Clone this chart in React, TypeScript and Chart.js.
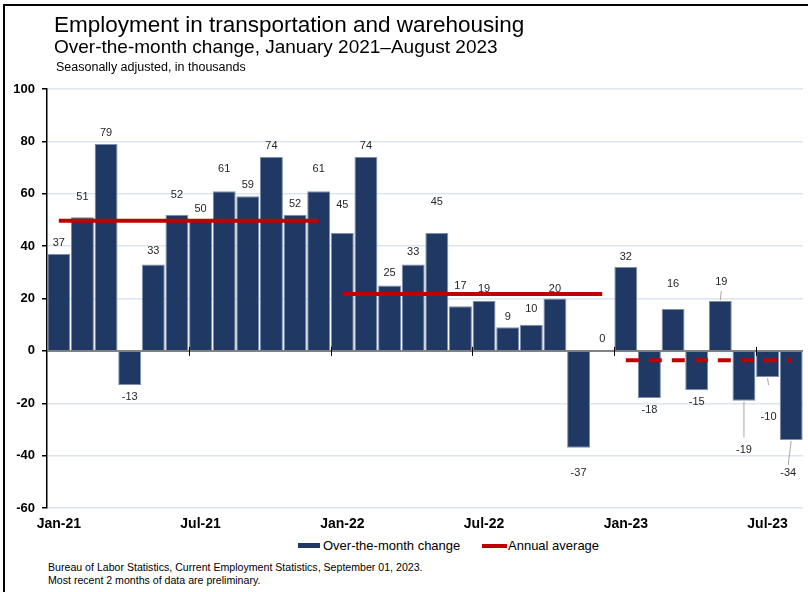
import React, { useEffect, useRef } from "react";
import { Chart, registerables } from "chart.js";

Chart.register(...registerables);

// ---- Data ----
const MONTHS = [
  "Jan-21", "Feb-21", "Mar-21", "Apr-21", "May-21", "Jun-21", "Jul-21", "Aug-21", "Sep-21", "Oct-21", "Nov-21", "Dec-21",
  "Jan-22", "Feb-22", "Mar-22", "Apr-22", "May-22", "Jun-22", "Jul-22", "Aug-22", "Sep-22", "Oct-22", "Nov-22", "Dec-22",
  "Jan-23", "Feb-23", "Mar-23", "Apr-23", "May-23", "Jun-23", "Jul-23", "Aug-23",
];
const CHANGE = [
  37, 51, 79, -13, 33, 52, 50, 61, 59, 74, 52, 61,
  45, 74, 25, 33, 45, 17, 19, 9, 10, 20, -37, 0,
  32, -18, 16, -15, 19, -19, -10, -34,
];
const YEARS = ["21", "22", "23"];
const ANNUAL_AVG = [49.7, 21.7, -3.6];
const Y_TICKS = [-60, -40, -20, 0, 20, 40, 60, 80, 100];
const X_TICK_LABELS = ["Jan-21", "Jul-21", "Jan-22", "Jul-22", "Jan-23", "Jul-23"];
const PRELIM_YEAR = "23";

// ---- Label placement (style only, pixels from bar end) ----
const LABEL_DY = [
  -11, -20, -11, 12, -13, -20, -11, -22, -11, -11, -11, -22,
  -28, -11, -12, -12, -31, -20, -12, -10, -16, -10, 25, -12,
  -10, 12, -25, 12, -19, 49, 40, 33,
];
const LABEL_DX: Record<number, number> = { 28: 1, 30: 1, 31: -3 };
const LEADER_LEN: Record<number, number> = { 28: 10, 29: 37, 30: 8, 31: 25 };

const NAVY = "#203864";
const RED = "#c00000";
const FONT = '"Liberation Sans", Arial, sans-serif';

const avgLine = MONTHS.map((m) => ANNUAL_AVG[YEARS.indexOf(m.slice(-2))]);

const overlayPlugin = {
  id: "overlay",
  afterDatasetsDraw(chart: any) {
    const ctx = chart.ctx;
    const x = chart.scales.x;
    const y = chart.scales.y;
    const area = chart.chartArea;
    const y0 = y.getPixelForValue(0);
    ctx.save();
    // zero line
    ctx.strokeStyle = "#595959";
    ctx.lineWidth = 1.5;
    ctx.beginPath();
    ctx.moveTo(area.left, y0);
    ctx.lineTo(area.right, y0);
    ctx.stroke();
    // boundary ticks on zero line
    const half = (x.getPixelForValue(1) - x.getPixelForValue(0)) / 2;
    ctx.strokeStyle = "#000";
    ctx.lineWidth = 1;
    MONTHS.forEach((m, i) => {
      if (i > 0 && X_TICK_LABELS.includes(m)) {
        const px = Math.round(x.getPixelForValue(i) - half) + 0.5;
        ctx.beginPath();
        ctx.moveTo(px, y0 - 4);
        ctx.lineTo(px, y0 + 5);
        ctx.stroke();
      }
    });
    // data labels
    const meta = chart.getDatasetMeta(1);
    ctx.font = "11px " + FONT;
    ctx.fillStyle = "#262626";
    ctx.textAlign = "center";
    ctx.textBaseline = "middle";
    meta.data.forEach((el: any, i: number) => {
      const v = CHANGE[i];
      const end = y.getPixelForValue(v);
      const dx = LABEL_DX[i] || 0;
      const ly = end + LABEL_DY[i];
      if (LEADER_LEN[i]) {
        const sign = v >= 0 ? -1 : 1;
        ctx.strokeStyle = "#a6a6a6";
        ctx.lineWidth = 1;
        ctx.beginPath();
        ctx.moveTo(el.x, end + sign);
        ctx.lineTo(el.x + dx, end + sign * LEADER_LEN[i]);
        ctx.stroke();
      }
      ctx.fillText(String(v), el.x + dx, ly);
    });
    ctx.restore();
  },
};

export default function App() {
  const ref = useRef<HTMLCanvasElement>(null);
  useEffect(() => {
    if (!ref.current) return;
    const chart = new Chart(ref.current, {
      type: "bar",
      data: {
        labels: MONTHS,
        datasets: [
          {
            type: "line",
            label: "Annual average",
            data: avgLine,
            borderColor: RED,
            borderWidth: 4,
            borderCapStyle: "butt",
            pointRadius: 0,
            order: 0,
            segment: {
              borderColor: (c: any) =>
                MONTHS[c.p0DataIndex].slice(-2) !== MONTHS[c.p1DataIndex].slice(-2) ? "rgba(0,0,0,0)" : RED,
              borderDash: (c: any) => (MONTHS[c.p0DataIndex].slice(-2) === PRELIM_YEAR ? [13, 10] : []),
            },
          } as any,
          {
            type: "bar",
            label: "Over-the-month change",
            data: CHANGE,
            backgroundColor: NAVY,
            borderColor: "#7d8fad",
            borderWidth: 1,
            barPercentage: 0.97,
            categoryPercentage: 1,
            order: 1,
          },
        ],
      },
      options: {
        animation: false,
        responsive: false,
        maintainAspectRatio: false,
        layout: { padding: { top: 89, right: 5, left: 0, bottom: 0 } },
        plugins: { legend: { display: false }, tooltip: { enabled: false }, title: { display: false } },
        scales: {
          x: {
            grid: { display: false, drawTicks: false },
            border: { display: false },
            ticks: {
              autoSkip: false,
              maxRotation: 0,
              padding: 8,
              color: "#000",
              font: { family: FONT, size: 14, weight: "bold" },
              callback: (_v: any, i: number) => (X_TICK_LABELS.includes(MONTHS[i]) ? MONTHS[i] : ""),
            },
            afterFit: (s: any) => {
              s.height = 30;
            },
          },
          y: {
            min: -60,
            max: 100,
            afterBuildTicks: (s: any) => {
              s.ticks = Y_TICKS.map((v) => ({ value: v }));
            },
            grid: {
              color: (c: any) => (c.tick && c.tick.value === 0 ? "rgba(0,0,0,0)" : "#dce6f2"),
              lineWidth: 1.5,
              tickColor: "#000",
              tickLength: 5,
              tickWidth: 1.5,
            },
            border: { color: "#000", width: 1.5 },
            ticks: {
              padding: 7,
              color: "#000",
              font: { family: FONT, size: 13, weight: "bold" },
            },
            afterFit: (s: any) => {
              s.width = 47;
            },
          },
        },
      },
      plugins: [overlayPlugin],
    } as any);
    return () => chart.destroy();
  }, []);

  const abs = (o: any) => ({ position: "absolute" as const, whiteSpace: "nowrap" as const, fontFamily: FONT, color: "#000", ...o });

  return (
    <div style={{ position: "absolute", left: 0, top: 0, width: 808, height: 592, overflow: "hidden", background: "#fff" }}>
      <div style={{ position: "absolute", left: 3, top: 4, width: 820, height: 600, borderLeft: "2px solid #000", borderTop: "2px solid #000" }} />
      <canvas ref={ref} width={808} height={538} style={{ position: "absolute", left: 0, top: 0, width: 808, height: 538 }} />
      <div style={abs({ left: 54, top: 12, fontSize: 22.5, lineHeight: "25px" })}>Employment in transportation and warehousing</div>
      <div style={abs({ left: 54, top: 37, fontSize: 19, lineHeight: "20px" })}>Over-the-month change, January 2021–August 2023</div>
      <div style={abs({ left: 56, top: 60, fontSize: 12.5, lineHeight: "14px" })}>Seasonally adjusted, in thousands</div>
      <div style={abs({ left: 298, top: 543, width: 22, height: 5, background: NAVY })} />
      <div style={abs({ left: 323, top: 538, fontSize: 13, lineHeight: "16px" })}>Over-the-month change</div>
      <div style={abs({ left: 482, top: 544, width: 25, height: 4, background: RED })} />
      <div style={abs({ left: 508, top: 538, fontSize: 13, lineHeight: "16px" })}>Annual average</div>
      <div style={abs({ left: 48, top: 561, fontSize: 10.6, lineHeight: "13px" })}>
        Bureau of Labor Statistics, Current Employment Statistics, September 01, 2023.
      </div>
      <div style={abs({ left: 48, top: 574, fontSize: 10.6, lineHeight: "13px" })}>Most recent 2 months of data are preliminary.</div>
    </div>
  );
}
